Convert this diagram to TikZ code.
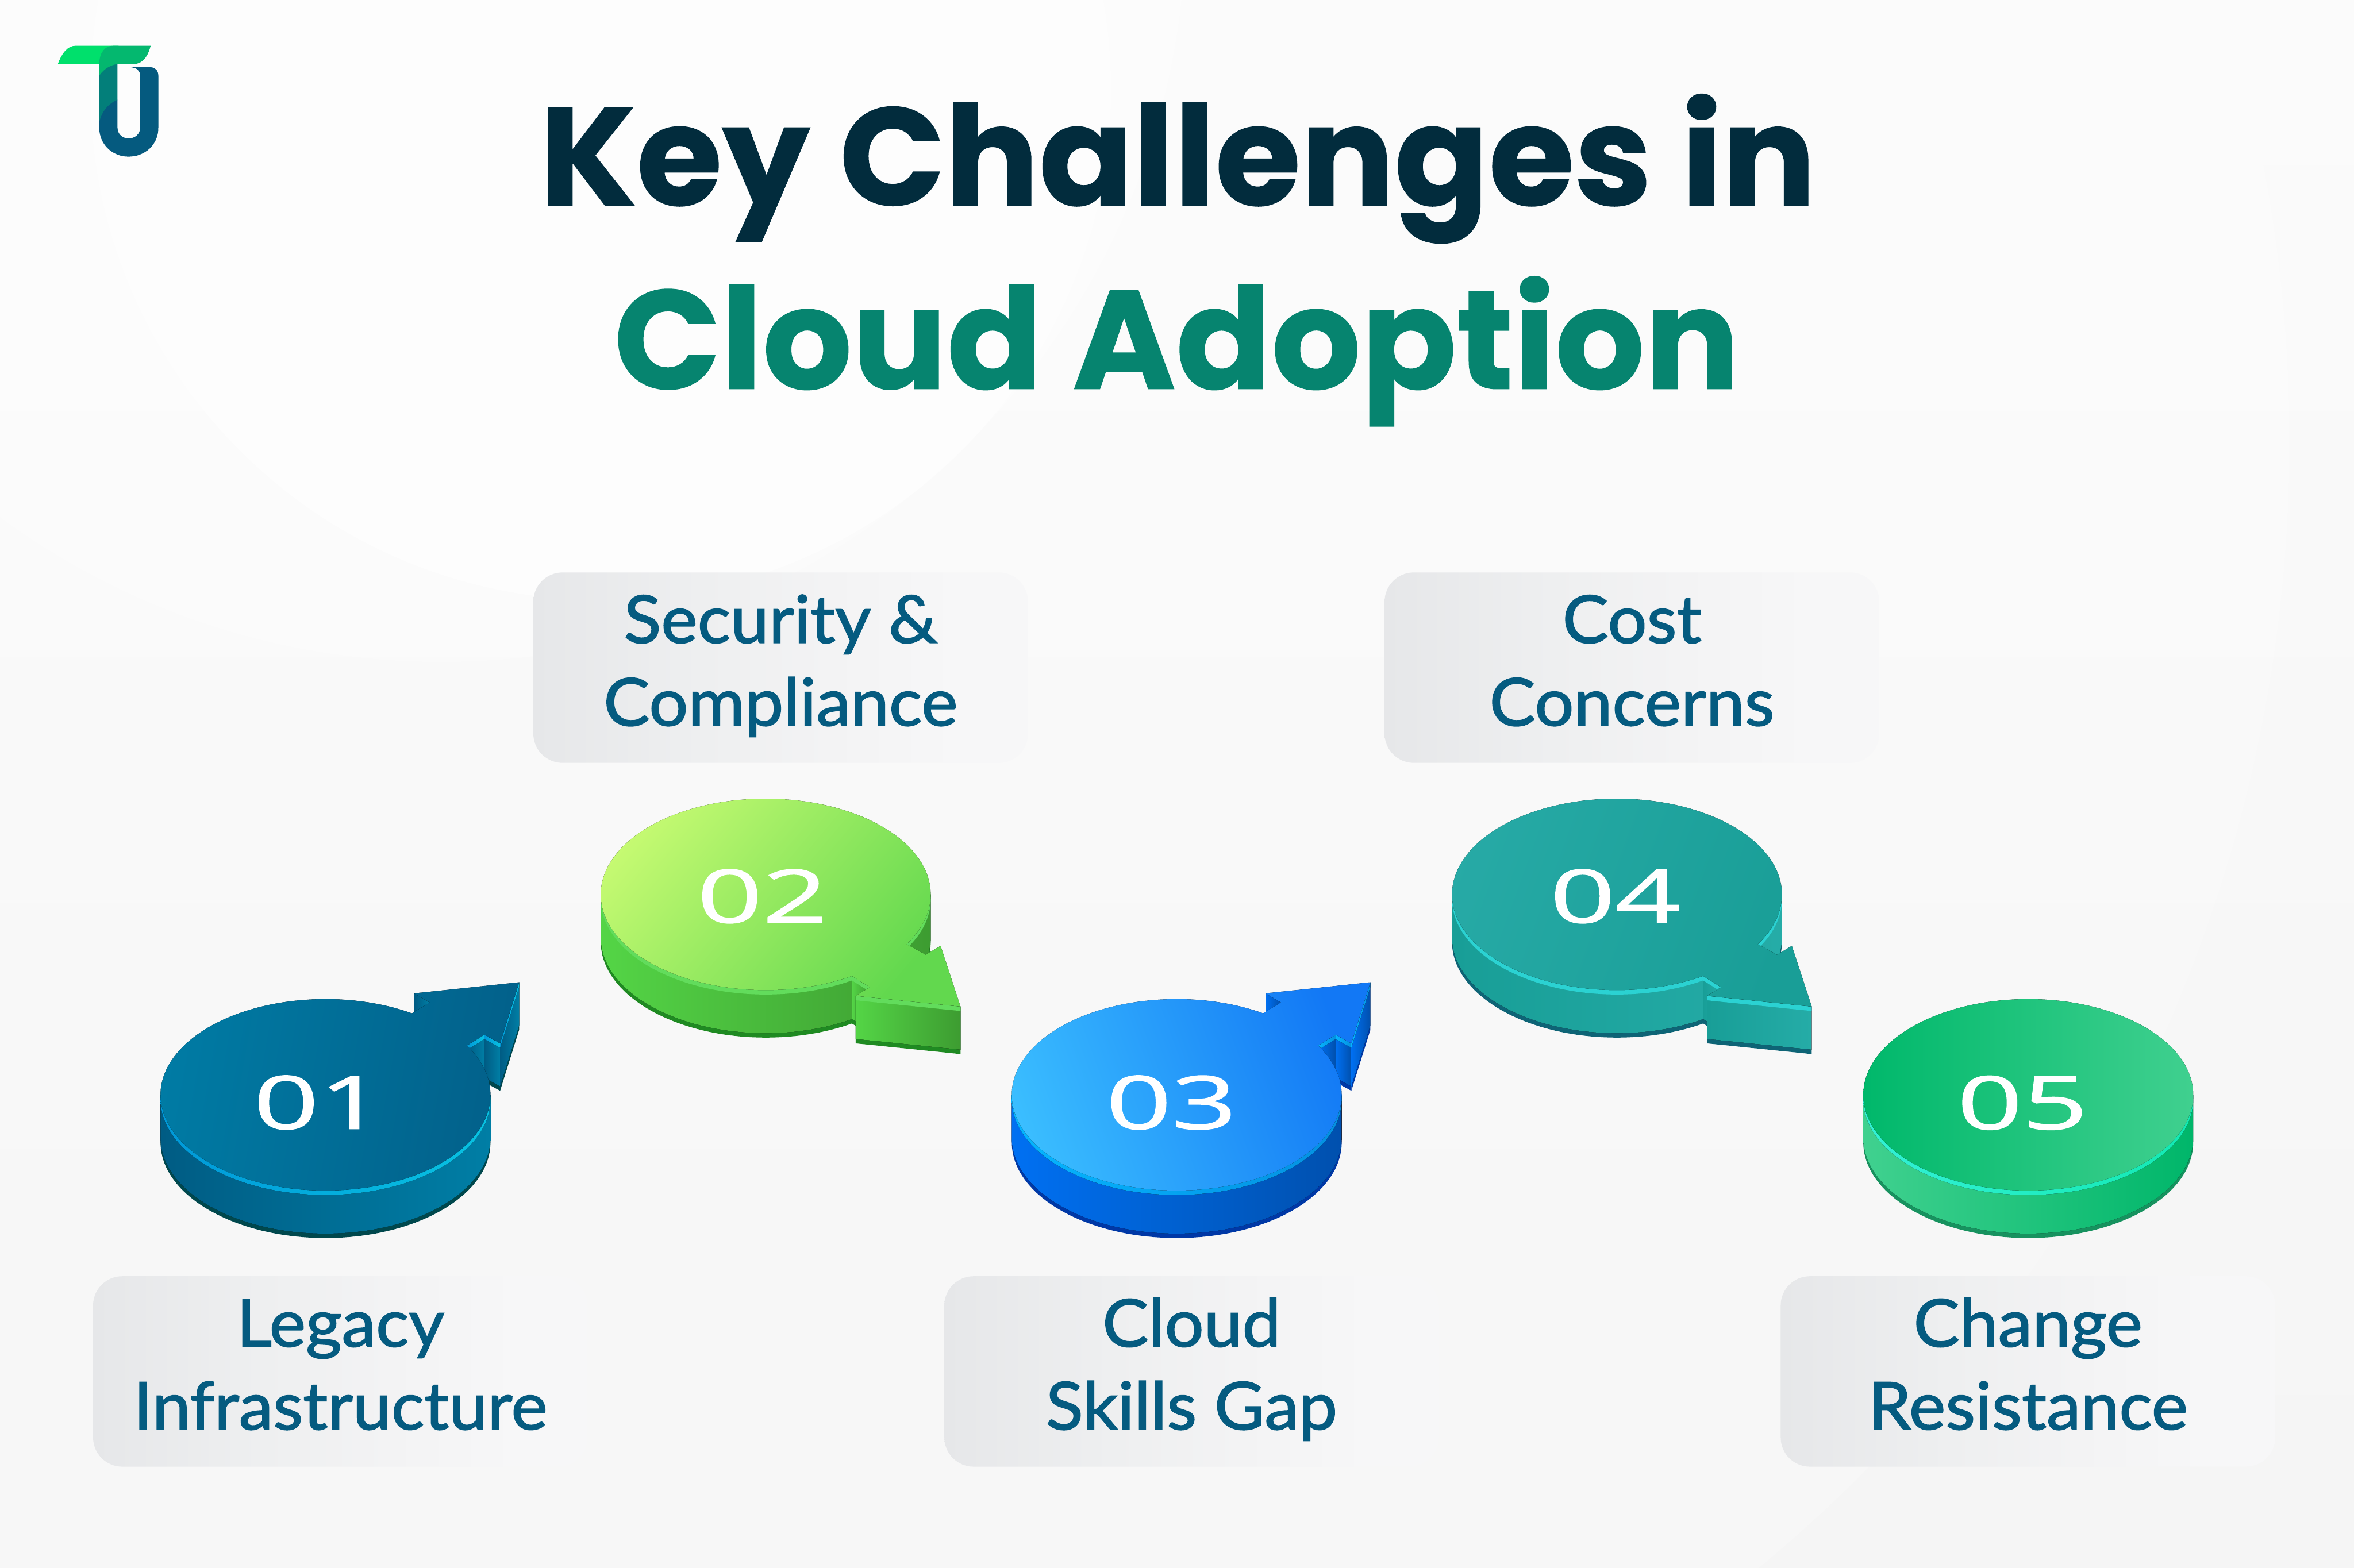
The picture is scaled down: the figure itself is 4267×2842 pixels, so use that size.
\documentclass[tikz,border=0pt]{standalone}
\usepackage{fontspec}
\usepackage{graphicx}
\setmainfont{Lato}
\newfontfamily\titlefont[BoldFeatures={FakeBold=0.6}]{Poppins}
\newfontfamily\labelfont[FakeBold=1.6,FakeStretch=1.045]{Lato}
\newfontfamily\numfont[FakeBold=1]{Open Sans}
\definecolor{titlenavy}{HTML}{022C3D}
\definecolor{titleteal}{HTML}{06846F}
\definecolor{labelblue}{HTML}{055B80}
\definecolor{boxgrey}{HTML}{E6E7E9}
\definecolor{boxmid}{HTML}{EEEFF0}
\definecolor{boxlight}{HTML}{F3F3F4}
\definecolor{boxfade}{HTML}{F7F7F8}
\pgfdeclarehorizontalshading{boxshade}{100bp}{color(0bp)=(boxgrey); color(25bp)=(boxgrey); color(42bp)=(boxmid); color(55bp)=(boxlight); color(68bp)=(boxfade); color(100bp)=(boxfade)}
\tikzset{
    one top/.style={top color={rgb,255:red,0;green,124;blue,165}, bottom color={rgb,255:red,2;green,96;blue,138}, shading angle=80},
    one side/.style={left color={rgb,255:red,0;green,92;blue,132}, right color={rgb,255:red,0;green,126;blue,165}},
    one rim/.style={left color={rgb,255:red,0;green,152;blue,216}, right color={rgb,255:red,8;green,194;blue,226}},
    one base/.style={fill={rgb,255:red,0;green,72;blue,77}},
    two top/.style={top color={rgb,255:red,201;green,251;blue,115}, bottom color={rgb,255:red,98;green,216;blue,78}, shading angle=50},
    two side/.style={left color={rgb,255:red,84;green,213;blue,70}, right color={rgb,255:red,61;green,156;blue,49}},
    two rim/.style={fill={rgb,255:red,98;green,220;blue,92}},
    two base/.style={fill={rgb,255:red,31;green,138;blue,34}},
    three top/.style={top color={rgb,255:red,60;green,192;blue,255}, bottom color={rgb,255:red,18;green,120;blue,245}, shading angle=110},
    three side/.style={left color={rgb,255:red,0;green,112;blue,242}, right color={rgb,255:red,0;green,80;blue,174}},
    three rim/.style={left color={rgb,255:red,5;green,181;blue,255}, right color={rgb,255:red,4;green,144;blue,224}},
    three base/.style={fill={rgb,255:red,0;green,56;blue,166}},
    four top/.style={top color={rgb,255:red,39;green,170;blue,166}, bottom color={rgb,255:red,25;green,158;blue,151}, shading angle=70},
    four side/.style={left color={rgb,255:red,24;green,158;blue,151}, right color={rgb,255:red,37;green,172;blue,167}},
    four rim/.style={fill={rgb,255:red,43;green,210;blue,210}},
    four base/.style={fill={rgb,255:red,14;green,100;blue,118}},
    five top/.style={left color={rgb,255:red,0;green,184;blue,107}, right color={rgb,255:red,64;green,208;blue,143}},
    five side/.style={left color={rgb,255:red,64;green,209;blue,143}, right color={rgb,255:red,0;green,182;blue,106}},
    five rim/.style={left color={rgb,255:red,51;green,240;blue,213}, right color={rgb,255:red,18;green,233;blue,178}},
    five base/.style={fill={rgb,255:red,23;green,146;blue,95}},
    labelbox/.style={rounded corners=0.53cm, minimum width=8.96cm, minimum height=3.45cm, inner sep=0pt,
        shading=boxshade, align=center, text=labelblue,
        font=\labelfont\fontsize{34}{42.68}\selectfont},
    stepnum/.style={inner sep=0pt, text=white, font=\numfont\fontsize{38}{42}\selectfont},
    titleline/.style={inner sep=0pt, anchor=base, font=\titlefont\bfseries\fontsize{72.5}{80}\selectfont},
}
% one wall of a step: foot, wall, light edge
\newcommand{\stepface}[3]{
    \fill[#1 base] (#2) -- (#3) -- ([yshift=-0.86cm]#3) -- ([yshift=-0.86cm]#2) -- cycle;
    \fill[#1 side] (#2) -- (#3) -- ([yshift=-0.78cm]#3) -- ([yshift=-0.78cm]#2) -- cycle;
    \fill[#1 rim] (#2) -- (#3) -- ([yshift=-0.08cm]#3) -- ([yshift=-0.08cm]#2) -- cycle;
}
\newcommand{\stepbody}[1]{
    \fill[#1 base] (-299,0) -- ([yshift=-0.86cm]-299,0) arc[start angle=180, end angle=0, x radius=299, y radius=173.5] -- (299,0) -- cycle;
    \fill[#1 side] (-299,0) -- ([yshift=-0.78cm]-299,0) arc[start angle=180, end angle=0, x radius=299, y radius=173.5] -- (299,0) -- cycle;
    \fill[#1 rim] (-299,0) -- ([yshift=-0.08cm]-299,0) arc[start angle=180, end angle=0, x radius=299, y radius=173.5] -- (299,0) -- cycle;
}
\newcommand{\stepup}[1]{
    \stepface{#1}{256.3,-89.4}{288,-109}
    \stepface{#1}{288,-109}{316.5,-93.5}
    \stepface{#1}{316.5,-93.5}{351,-204}
    \fill[#1 side] (161,-184) -- (189,-167.5) -- ([yshift=-0.78cm]189,-167.5) -- ([yshift=-0.78cm]161,-184) -- cycle;
    \stepbody{#1}
    \fill[#1 top] (-58.4:299 and 173.5) arc[start angle=-58.4, end angle=-391, x radius=299, y radius=173.5]
        -- (288,-109) -- (316.5,-93.5) -- (351,-204) -- (161,-184) -- (189,-167.5) -- cycle;
}
\newcommand{\stepdown}[1]{
    \stepbody{#1}
    \stepface{#1}{156.2,147.9}{188.7,168.4}
    \stepface{#1}{163,184}{353,203.4}
    \fill[#1 top] (58.5:299 and 173.5) arc[start angle=58.5, end angle=391.4, x radius=299, y radius=173.5]
        -- (290,109.4) -- (317,93.4) -- (353,203.4) -- (163,184) -- (188.7,168.4) -- cycle;
}
\begin{document}
\begin{tikzpicture}[x=0.01cm, y=-0.01cm]
    \useasboundingbox (0,0) rectangle (4267,2842);
    % background
    \fill[top color=white!98.5!black, bottom color=white!96!black] (0,0) rectangle (4267,2842);
    \begin{scope}
        \clip (0,0) rectangle (4267,2842);
        \fill[white, opacity=0.2] (1500,800) circle (2650);
        \fill[white, opacity=0.3] (800,-150) circle (1350);
        \fill[white, opacity=0.5] (1089,163) circle (925);
    \end{scope}
    % logo
    \fill[fill={rgb,255:red,0;green,224;blue,108}] (105,116) .. controls (112,97) and (122,83) .. (137,83) -- (215,83) -- (215,116) -- cycle;
    \fill[fill={rgb,255:red,3;green,127;blue,122}] (180,116) -- (180,222) -- (213,181) -- (213,116) -- cycle;
    \fill[fill={rgb,255:red,4;green,184;blue,111}] (180,137) -- (180,116) .. controls (180,96) and (190,83) .. (205,83) -- (273,83) .. controls (268,103) and (258,116) .. (243,116) -- (213,116) .. controls (200,118) and (188,125) .. (180,137) -- cycle;
    \fill[fill={rgb,255:red,5;green,90;blue,127}] (180,222) -- (180,232) .. controls (180,262) and (204,284) .. (233,284) .. controls (263,284) and (287,262) .. (287,232)
        -- (287,137) .. controls (287,128) and (281,122) .. (273,122) -- (238,122) .. controls (248,123) and (254,128) .. (254,137)
        -- (254,232) .. controls (254,243) and (245,251) .. (233,251) .. controls (222,251) and (213,243) .. (213,232) -- (213,181) .. controls (196,188) and (184,203) .. (180,222) -- cycle;
    % title
    \node[titleline, text=titlenavy] (title1) at (2135,372) {\fontsize{71.6}{80}\selectfont Key Challenges in};
    \node[titleline, text=titleteal] (title2) at (2133,705) {Cloud Adoption};
    % label boxes
    \node[labelbox] (label1) at (617,2486.5) {\strut Legacy\\\strut Infrastructure};
    \node[labelbox] (label2) at (1415,1210.5) {\strut Security \&\\\strut Compliance};
    \node[labelbox] (label3) at (2160,2486.5) {\strut Cloud\\\strut Skills Gap};
    \node[labelbox] (label4) at (2958,1210.5) {\strut Cost\\\strut Concerns};
    \node[labelbox] (label5) at (3676,2486.5) {\strut Change\\\strut Resistance};
    % steps
    \begin{scope}[shift={(590,1985)}]
        \stepup{one}
    \end{scope}
    \begin{scope}[shift={(1388,1621.6)}]
        \stepdown{two}
    \end{scope}
    \begin{scope}[shift={(2133,1985)}]
        \stepup{three}
    \end{scope}
    \begin{scope}[shift={(2931,1621.6)}]
        \stepdown{four}
    \end{scope}
    \begin{scope}[shift={(3676.5,1985)}]
        \stepbody{five}
        \fill[five top] (0,0) ellipse [x radius=299, y radius=173.5];
    \end{scope}
    % numbers
    \node[stepnum] (num1) at (578,1999) {\scalebox{1.55}[1]{01}};
    \node[stepnum] (num2) at (1382,1625) {\scalebox{1.55}[1]{02}};
    \node[stepnum] (num3) at (2123.5,1999) {\scalebox{1.55}[1]{03}};
    \node[stepnum] (num4) at (2928,1625) {\scalebox{1.55}[1]{04}};
    \node[stepnum] (num5) at (3666,1999.5) {\scalebox{1.55}[1]{05}};
\end{tikzpicture}
\end{document}
